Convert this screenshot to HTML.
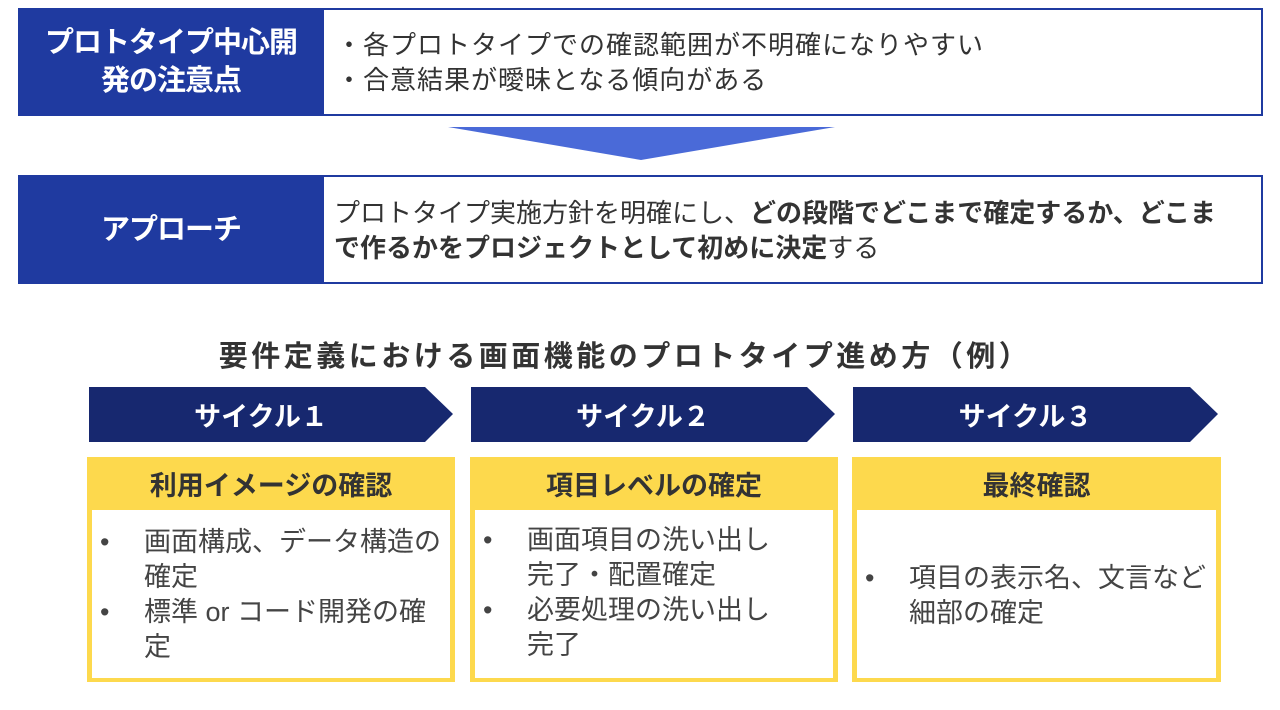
<!DOCTYPE html>
<html><head><meta charset="utf-8"><style>
body{margin:0;width:1280px;height:710px;background:#fff;position:relative;overflow:hidden;font-family:"Liberation Sans","Noto Sans CJK JP",sans-serif;color:#333}
.a{position:absolute;box-sizing:border-box}
.row{border:2px solid #1f3aa0;background:#fff}
.lab{background:#1f3aa0;color:#fff;font-weight:bold;font-size:29px;display:flex;align-items:center;justify-content:center;text-align:center;line-height:38px;letter-spacing:-1px}
.txt{font-size:26px;line-height:35px;letter-spacing:1px}
.chev{color:#fff;font-weight:bold;font-size:27px;display:flex;align-items:center;justify-content:center;padding-right:20px}
.card{background:#fdd94d}
.card .h{height:52px;display:flex;align-items:center;justify-content:center;font-weight:bold;font-size:27px;color:#333}
.card .w{position:absolute;left:5px;right:5px;top:53px;bottom:4px;background:#fff;font-size:27px;line-height:35px;color:#444}
.li{position:relative;padding-left:52px}
.li:before{content:"•";position:absolute;left:8px}
</style></head><body>
<div class="a row" style="left:18px;top:8px;width:1245px;height:108px"></div>
<div class="a lab" style="left:18px;top:8px;width:306px;height:108px">プロトタイプ中心開<br>発の注意点</div>
<div class="a txt" style="left:336px;top:28px">・各プロトタイプでの確認範囲が不明確になりやすい<br>・合意結果が曖昧となる傾向がある</div>
<svg class="a" style="left:0;top:0" width="1280" height="710"><polygon points="448,127 835,127 641,160" fill="#4a6ad8"/>
<polygon points="89,387 425,387 453,414 425,442 89,442" fill="#17286f"/>
<polygon points="471,387 807,387 835,414 807,442 471,442" fill="#17286f"/>
<polygon points="853,387 1190,387 1218,414 1190,442 853,442" fill="#17286f"/></svg>
<div class="a row" style="left:18px;top:175px;width:1245px;height:109px"></div>
<div class="a lab" style="left:18px;top:175px;width:306px;height:109px">アプローチ</div>
<div class="a txt" style="left:334px;top:196px;width:898px;letter-spacing:0">プロトタイプ実施方針を明確にし、<b>どの段階でどこまで確定するか、どこまで作るかをプロジェクトとして初めに決定</b>する</div>
<div class="a" style="left:0;width:1250px;top:333px;text-align:center;font-weight:bold;font-size:29px;letter-spacing:3.5px;color:#333">要件定義における画面機能のプロトタイプ進め方（例）</div>
<div class="a chev" style="left:89px;top:387px;width:364px;height:55px">サイクル１</div>
<div class="a chev" style="left:471px;top:387px;width:364px;height:55px">サイクル２</div>
<div class="a chev" style="left:853px;top:387px;width:365px;height:55px">サイクル３</div>
<div class="a card" style="left:87px;top:457px;width:368px;height:225px"><div class="h">利用イメージの確認</div>
<div class="w" style="padding-top:15px;padding-right:8px"><div class="li">画面構成、データ構造の確定</div><div class="li">標準 or コード開発の確定</div></div></div>
<div class="a card" style="left:470px;top:457px;width:368px;height:225px"><div class="h">項目レベルの確定</div>
<div class="w" style="padding-top:13px;padding-right:45px"><div class="li">画面項目の洗い出し完了・配置確定</div><div class="li">必要処理の洗い出し完了</div></div></div>
<div class="a card" style="left:852px;top:457px;width:369px;height:225px"><div class="h">最終確認</div>
<div class="w" style="padding-top:51px;padding-right:4px"><div class="li">項目の表示名、文言など細部の確定</div></div></div>
</body></html>
